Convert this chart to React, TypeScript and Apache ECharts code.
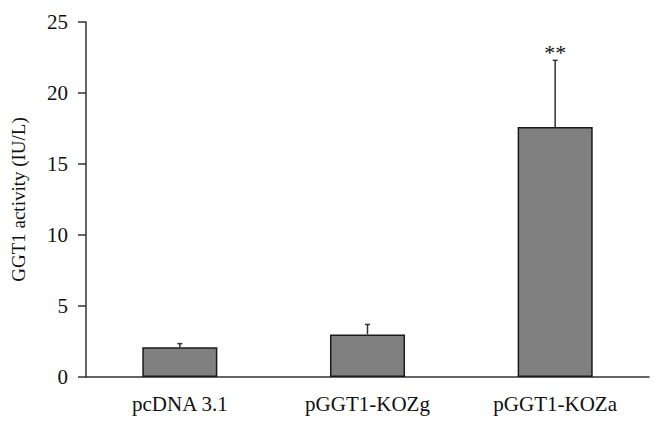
import React, { useEffect, useRef } from "react";
import * as echarts from "echarts";

const categories = ["pcDNA 3.1", "pGGT1-KOZg", "pGGT1-KOZa"];
const means = [2.1, 3.0, 17.6];
const errors = [0.25, 0.7, 4.7];
const significance = ["", "", "**"];
const yTicks = { min: 0, max: 25, interval: 5 };

export default function App() {
  const ref = useRef<HTMLDivElement>(null);
  useEffect(() => {
    const chart = echarts.init(ref.current!, null, { renderer: "svg" });
    const font = "Liberation Serif";
    chart.setOption({
      animation: false,
      backgroundColor: "#ffffff",
      grid: { left: 86, right: 15, top: 22, bottom: 52 },
      xAxis: {
        type: "category",
        data: categories,
        axisLine: { lineStyle: { color: "#333", width: 1.5 } },
        axisTick: { length: 7, lineStyle: { color: "#333", width: 1.5 } },
        axisLabel: { color: "#111", fontFamily: font, fontSize: 21, margin: 16 },
      },
      yAxis: {
        type: "value",
        min: yTicks.min,
        max: yTicks.max,
        interval: yTicks.interval,
        name: "GGT1 activity (IU/L)",
        nameLocation: "middle",
        nameGap: 58,
        nameTextStyle: { color: "#111", fontFamily: font, fontSize: 19 },
        axisLine: { show: true, lineStyle: { color: "#333", width: 1.5 } },
        axisTick: { show: true, length: 8, lineStyle: { color: "#333", width: 1.5 } },
        axisLabel: { color: "#111", fontFamily: font, fontSize: 21, margin: 18 },
        splitLine: { show: false },
      },
      series: [
        {
          type: "bar",
          data: means,
          barWidth: "40%",
          itemStyle: { color: "#808080", borderColor: "#1a1a1a", borderWidth: 1.5 },
          z: 2,
        },
        {
          type: "custom",
          z: 3,
          data: means.map((m, i) => [i, m, m + errors[i]]),
          renderItem: (params: any, api: any) => {
            const i = api.value(0);
            const base = api.coord([i, api.value(1)]);
            const top = api.coord([i, api.value(2)]);
            const sig = significance[i];
            const children: any[] = [
              {
                type: "line",
                shape: { x1: base[0], y1: base[1], x2: top[0], y2: top[1] },
                style: { stroke: "#333", lineWidth: 1.5 },
              },
              {
                type: "line",
                shape: { x1: top[0] - 2.5, y1: top[1], x2: top[0] + 2.5, y2: top[1] },
                style: { stroke: "#333", lineWidth: 1.5 },
              },
            ];
            if (sig) {
              children.push({
                type: "text",
                style: {
                  text: sig,
                  x: top[0],
                  y: top[1] + 3,
                  textAlign: "center",
                  textVerticalAlign: "bottom",
                  fontFamily: font,
                  fontSize: 22,
                  fill: "#111",
                },
              });
            }
            return { type: "group", children };
          },
        },
      ],
    });
    return () => chart.dispose();
  }, []);
  return <div ref={ref} style={{ width: 664, height: 429, position: "absolute", left: 0, top: 0 }} />;
}
